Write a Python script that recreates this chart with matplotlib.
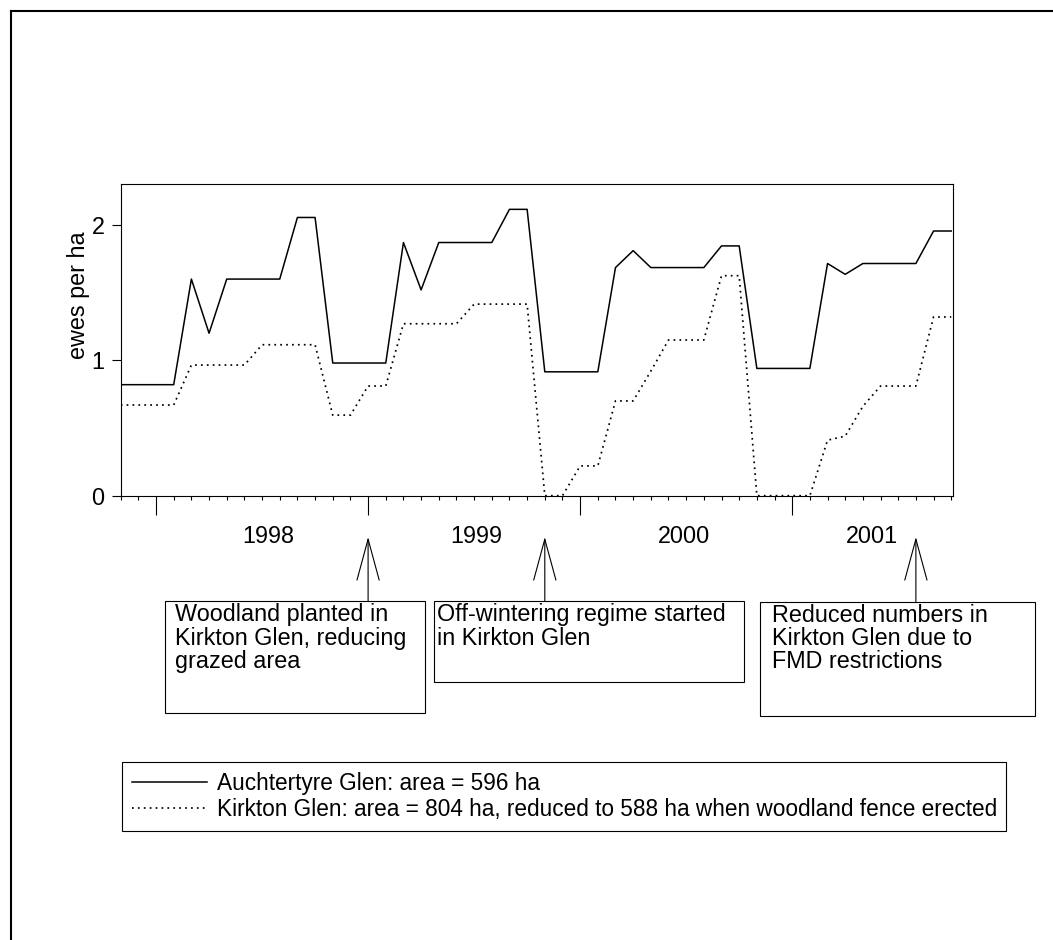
import matplotlib
matplotlib.use("Agg")
import matplotlib.pyplot as plt
import matplotlib.transforms as mtransforms
from matplotlib.patches import ArrowStyle, Rectangle
from matplotlib.lines import Line2D

plt.rcParams["font.family"] = ["Liberation Sans", "DejaVu Sans"]

# Monthly stocking density (ewes per ha), Nov 1997 .. Oct 2001
months = list(range(48))
auchtertyre = [
    0.82, 0.82, 0.82, 0.82, 1.60, 1.20, 1.60, 1.60, 1.60, 1.60, 2.055, 2.055,
    0.98, 0.98, 0.98, 0.98, 1.87, 1.52, 1.87, 1.87, 1.87, 1.87, 2.115, 2.115,
    0.915, 0.915, 0.915, 0.915, 1.685, 1.81, 1.685, 1.685, 1.685, 1.685, 1.845, 1.845,
    0.94, 0.94, 0.94, 0.94, 1.715, 1.635, 1.715, 1.715, 1.715, 1.715, 1.955, 1.955,
]
kirkton = [
    0.67, 0.67, 0.67, 0.67, 0.965, 0.965, 0.965, 0.965, 1.115, 1.115, 1.115, 1.115,
    0.595, 0.595, 0.81, 0.81, 1.27, 1.27, 1.27, 1.27, 1.415, 1.415, 1.415, 1.415,
    0.0, 0.0, 0.22, 0.22, 0.70, 0.70, 0.92, 1.15, 1.15, 1.15, 1.625, 1.625,
    0.0, 0.0, 0.0, 0.0, 0.41, 0.44, 0.66, 0.81, 0.81, 0.81, 1.32, 1.32,
]
year_starts = [2, 14, 26, 38]
year_labels = ["1998", "1999", "2000", "2001"]
year_label_pos = [8.35, 20.1, 31.9, 42.5]
series_labels = [
    "Auchtertyre Glen: area = 596 ha",
    "Kirkton Glen: area = 804 ha, reduced to 588 ha when woodland fence erected",
]

# Events: month index, box (left, top, right, bottom) in px, text lines
events = [
    (14, (164.7, 601, 425.3, 713.3), ["Woodland planted in", "Kirkton Glen, reducing", "grazed area"]),
    (24, (434.3, 601, 744.0, 681.7), ["Off-wintering regime started", "in Kirkton Glen"]),
    (45, (760.0, 601.5, 1035.0, 716.0), ["Reduced numbers in", "Kirkton Glen due to", "FMD restrictions"]),
]
text_inset = [10.5, 3.0, 12.5]

W, H = 1053, 940
FS = 16.8

fig = plt.figure(figsize=(W / 100, H / 100), dpi=100)

# overlay in pixel coordinates for frame, boxes and arrows
over = fig.add_axes([0, 0, 1, 1])
over.set_xlim(0, W)
over.set_ylim(H, 0)
over.axis("off")

ax = fig.add_axes([120.7 / W, 1 - 495.7 / H, 832.3 / W, 311.4 / H])
ax.plot(months, auchtertyre, color="black", linewidth=1.1, label=series_labels[0])
ax.plot(months, kirkton, color="black", linewidth=1.25, linestyle=(0, (1, 2.4)),
        label=series_labels[1])

ax.set_xlim(0, 47.1)
ax.set_ylim(0, 2.3)
ax.set_yticks([0, 1, 2])
ax.tick_params(axis="y", direction="out", length=6.5, width=0.8, labelsize=FS, pad=5)
ax.set_xticks(year_starts)
ax.set_xticklabels([])
ax.set_xticks(months, minor=True)
ax.tick_params(axis="x", which="major", direction="out", length=14, width=0.8)
ax.tick_params(axis="x", which="minor", direction="out", length=3, width=0.8)
for s in ax.spines.values():
    s.set_linewidth(0.8)
ax.set_ylabel("ewes per ha", fontsize=FS)
ax.yaxis.set_label_coords(-0.037, 0.645)

# year labels between the year boundary ticks
for pos, lab in zip(year_label_pos, year_labels):
    ax.text(pos, -0.1326, lab, transform=ax.get_xaxis_transform(),
            ha="center", va="center", fontsize=FS)

# event boxes and arrows
blend = mtransforms.blended_transform_factory(ax.transData, over.transData)
arrow = ArrowStyle("->", head_length=2.95, head_width=0.8)
for (m, (l, t, r, b), lines), inset in zip(events, text_inset):
    over.add_patch(Rectangle((l, t), r - l, b - t, fill=False,
                             edgecolor="black", linewidth=0.8))
    for k, line in enumerate(lines):
        over.text(l + inset, 621.5 + k * 23.3, line, fontsize=FS,
                  ha="left", va="baseline")
    over.annotate("", xy=(m, 537), xytext=(m, t), xycoords=blend,
                  textcoords=blend, annotation_clip=False,
                  arrowprops=dict(arrowstyle=arrow, mutation_scale=10,
                                  color="black", linewidth=0.8,
                                  shrinkA=0, shrinkB=0))

# figure frame, open at right and bottom
over.add_line(Line2D([11, 11], [H + 5, 11], color="black", linewidth=1.5))
over.add_line(Line2D([11, W + 5], [11, 11], color="black", linewidth=1.5))

leg = fig.legend(loc="upper left", bbox_to_anchor=(122 / W, 1 - 832 / H, 884 / W, 70 / H),
                 mode="expand", borderaxespad=0, fontsize=16.3, frameon=True,
                 fancybox=False, edgecolor="black", framealpha=1,
                 handlelength=3.3, handletextpad=0.45, borderpad=0.45,
                 labelspacing=0.12)
leg.get_frame().set_linewidth(0.8)

fig.savefig("out.png", dpi=100)
